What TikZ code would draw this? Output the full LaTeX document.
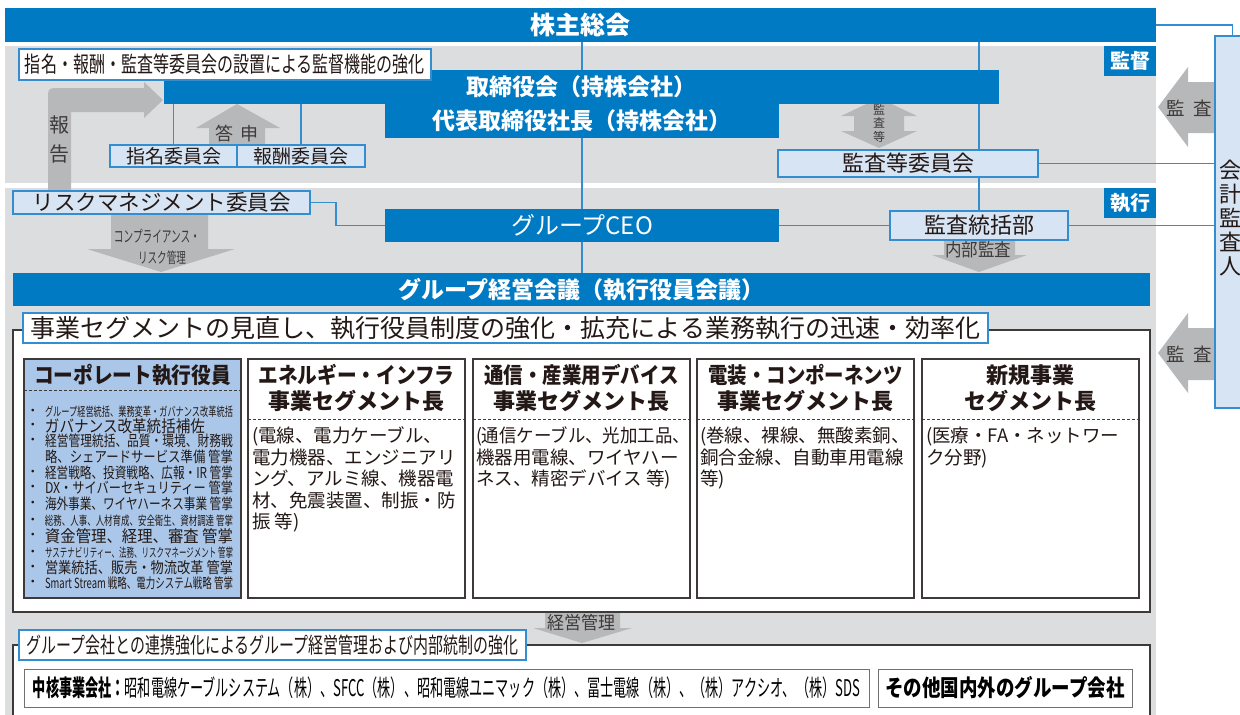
\documentclass[tikz,border=0pt]{standalone}
\usepackage{fontspec}
\setmainfont{Noto Sans CJK JP}
\usepackage{graphicx}
\usetikzlibrary{calc}
\definecolor{cblue}{RGB}{0,122,195}
\definecolor{lineblue}{RGB}{52,141,206}
\definecolor{lblue}{RGB}{214,228,243}
\definecolor{corpfill}{RGB}{170,199,233}
\definecolor{bandgray}{RGB}{220,221,222}
\definecolor{agray}{RGB}{183,184,186}
\definecolor{dark}{RGB}{62,58,57}
\definecolor{txtc}{RGB}{35,24,21}
\definecolor{mgray}{RGB}{114,113,113}
\pgfdeclarelayer{back}
\pgfdeclarelayer{mid}
\pgfsetlayers{back,mid,main}
\newcommand{\fitw}[2]{\resizebox{#1}{\height}{#2}}
\newcommand{\fs}[1]{\fontsize{#1pt}{#1pt}\selectfont}
\newcommand{\citem}[5]{\node[tl,anchor=west] (ci#1) at (45,#2) {\fitw{#3pt}{\fs{#4}#5}};}
\newcommand{\cbul}[2]{\node[tl] (cb#1) at (33,#2) {\fs{13}・};}
\begin{document}
\begin{tikzpicture}[x=1pt,y=-1pt,
 bbar/.style={fill=cblue,draw=none,inner sep=0,outer sep=0,text=white},
 lbbox/.style={fill=lblue,draw=lineblue,line width=1.2pt,inner sep=0,outer sep=0,text=txtc},
 wtbox/.style={fill=white,draw=lineblue,line width=1.2pt,inner sep=0,outer sep=0,text=txtc},
 sgbox/.style={fill=white,draw=dark,line width=1.2pt,inner sep=0,outer sep=0},
 conn/.style={draw=lineblue,line width=1.3pt},
 garr/.style={fill=agray,draw=none},
 dsh/.style={draw=dark,line width=0.8pt,dash pattern=on 3pt off 2pt},
 tl/.style={inner sep=0,outer sep=0,text=txtc},
 body/.style={tl,anchor=north west,align=left,font=\fontsize{18.5pt}{21.5pt}\selectfont}]
\useasboundingbox (0,0) rectangle (1240,715);

% ---------- top ----------
\node[bbar,minimum width=1151pt,minimum height=34pt,font=\bfseries\fs{25}] (kabu) at (580.5,25) {株主総会};
\node[bbar,minimum width=835pt,minimum height=34pt,font=\bfseries\fs{23}] (board) at (581.5,87) {取締役会（持株会社）};
\node[bbar,minimum width=394pt,minimum height=34pt,font=\bfseries\fs{23}] (pres) at (582,121) {代表取締役社長（持株会社）};
\node[wtbox,minimum width=412pt,minimum height=31pt] (kyoka) at (225,64.5) {\fitw{400pt}{\fs{22}指名・報酬・監査等委員会の設置による監督機能の強化}};
\node[lbbox,minimum width=127pt,minimum height=22pt,font=\fs{19}] (shimei) at (173.5,156) {指名委員会};
\node[lbbox,minimum width=128pt,minimum height=22pt,font=\fs{19}] (hoshu) at (301,156) {報酬委員会};
\node[lbbox,minimum width=260pt,minimum height=27pt,font=\fs{22}] (kansa) at (908,163.5) {監査等委員会};
\node[bbar,minimum width=52pt,minimum height=30pt,font=\bfseries\fs{20}] (kantoku) at (1130,61) {監督};

% ---------- execution ----------
\node[lbbox,minimum width=297pt,minimum height=23pt,font=\fs{21.5}] (risk) at (161.5,202.5) {リスクマネジメント委員会};
\node[bbar,minimum width=394pt,minimum height=33pt,font=\fs{24}] (ceo) at (582,225.5) {グループCEO};
\node[lbbox,minimum width=178pt,minimum height=29pt,font=\fs{22}] (tokatsu) at (979,225.5) {監査統括部};
\node[bbar,minimum width=52pt,minimum height=30pt,font=\bfseries\fs{20}] (shikko) at (1130,203) {執行};
\node[bbar,minimum width=1137pt,minimum height=33pt,font=\bfseries\fs{23}] (keiei) at (581.5,289.5) {グループ経営会議（執行役員会議）};

% ---------- auditor ----------
\node[lbbox,minimum width=35pt,minimum height=372pt] (kaikei) at (1232.5,222) {};
\node[tl,align=center,font=\fontsize{22pt}{24pt}\selectfont] (kaikeiT) at (1230,218) {会\\計\\監\\査\\人};

% ---------- segments ----------
\node[sgbox,minimum width=1137pt,minimum height=282pt] (segframe) at (581.5,471) {};
\node[wtbox,minimum width=965pt,minimum height=30pt,font=\fs{25}] (segtitle) at (505.5,328) {事業セグメントの見直し、執行役員制度の強化・拡充による業務執行の迅速・効率化};
\node[sgbox,fill=corpfill,minimum width=217pt,minimum height=239pt] (corp) at (132.5,478.5) {};
\node[sgbox,minimum width=217pt,minimum height=239pt] (seg1) at (356.5,478.5) {};
\node[sgbox,minimum width=217pt,minimum height=239pt] (seg2) at (581.5,478.5) {};
\node[sgbox,minimum width=217pt,minimum height=239pt] (seg3) at (805.5,478.5) {};
\node[sgbox,minimum width=217pt,minimum height=239pt] (seg4) at (1030.5,478.5) {};
\draw[dsh] ($(corp.north west)+(0,31)$) -- ($(corp.north east)+(0,31)$);
\draw[dsh] ($(seg1.north west)+(0,60)$) -- ($(seg1.north east)+(0,60)$);
\draw[dsh] ($(seg2.north west)+(0,60)$) -- ($(seg2.north east)+(0,60)$);
\draw[dsh] ($(seg3.north west)+(0,60)$) -- ($(seg3.north east)+(0,60)$);
\draw[dsh] ($(seg4.north west)+(0,60)$) -- ($(seg4.north east)+(0,60)$);

\node[tl,font=\bfseries] (corpT) at (132.5,375) {\fitw{197pt}{\fs{22}コーポレート執行役員}};
\node[tl,font=\bfseries] (s1a) at (356.5,375) {\fitw{196pt}{\fs{22}エネルギー・インフラ}};
\node[tl,font=\bfseries\fs{22}] (s1b) at (356.5,401) {事業セグメント長};
\node[tl,font=\bfseries] (s2a) at (581.5,375) {\fitw{194pt}{\fs{22}通信・産業用デバイス}};
\node[tl,font=\bfseries\fs{22}] (s2b) at (581.5,401) {事業セグメント長};
\node[tl,font=\bfseries] (s3a) at (805.5,375) {\fitw{194pt}{\fs{22}電装・コンポーネンツ}};
\node[tl,font=\bfseries\fs{22}] (s3b) at (805.5,401) {事業セグメント長};
\node[tl,font=\bfseries\fs{22}] (s4a) at (1030.5,375) {新規事業};
\node[tl,font=\bfseries\fs{22}] (s4b) at (1030.5,401) {セグメント長};

\node[body] (b1) at (252,427) {(電線、電力ケーブル、\\電力機器、エンジニアリ\\ング、アルミ線、機器電\\材、免震装置、制振・防\\振 等)};
\node[body] (b2) at (476,427) {\fitw{214pt}{(通信ケーブル、光加工品、}\\機器用電線、ワイヤハー\\ネス、精密デバイス 等)};
\node[body] (b3) at (700,427) {(巻線、裸線、無酸素銅、\\銅合金線、自動車用電線\\等)};
\node[body] (b4) at (926,427) {(医療・FA・ネットワー\\ク分野)};

\cbul{1}{412}\citem{1}{412}{188}{12.5}{グループ経営統括、業務変革・ガバナンス改革統括}
\cbul{2}{426}\citem{2}{426}{160}{16.5}{ガバナンス改革統括補佐}
\cbul{3}{441}\citem{3}{441}{188}{15}{経営管理統括、品質・環境、財務戦}
\citem{4}{457}{188}{15}{略、シェアードサービス準備 管掌}
\cbul{5}{473}\citem{5}{473}{188}{15}{経営戦略、投資戦略、広報・IR 管掌}
\cbul{6}{488}\citem{6}{488}{188}{15}{DX・サイバーセキュリティー 管掌}
\cbul{7}{504}\citem{7}{504}{188}{15}{海外事業、ワイヤハーネス事業 管掌}
\cbul{8}{521}\citem{8}{521}{188}{12.5}{総務、人事、人材育成、安全衛生、資材調達 管掌}
\cbul{9}{536}\citem{9}{536}{188}{16.5}{資金管理、経理、審査 管掌}
\cbul{10}{553}\citem{10}{553}{188}{12.5}{サステナビリティー、法務、リスクマネージメント 管掌}
\cbul{11}{568}\citem{11}{568}{188}{15.5}{営業統括、販売・物流改革 管掌}
\cbul{12}{583}\citem{12}{583}{188}{14}{Smart Stream 戦略、電力システム戦略 管掌}

% ---------- group companies ----------
\node[sgbox,minimum width=1137pt,minimum height=90pt] (grframe) at (581.5,690) {};
\node[wtbox,minimum width=507pt,minimum height=30pt] (grtitle) at (272.5,645) {\fitw{491pt}{\fs{22}グループ会社との連携強化によるグループ経営管理および内部統制の強化}};
\node[sgbox,draw=mgray,line width=1pt,minimum width=845pt,minimum height=38pt] (core) at (446.5,688) {\fitw{827pt}{\fs{23}\bfseries 中核事業会社：\mdseries 昭和電線ケーブルシステム（株）、SFCC（株）、昭和電線ユニマック（株）、冨士電線（株）、（株）アクシオ、（株）SDS}};
\node[sgbox,draw=mgray,line width=1pt,minimum width=254pt,minimum height=38pt] (other) at (1005,688) {\fitw{239pt}{\fs{23}\bfseries その他国内外のグループ会社}};

% ---------- arrow labels ----------
\node[tl,font=\fs{20},text=dark] (hokoku1) at (59,125) {報};
\node[tl,font=\fs{20},text=dark] (hokoku2) at (59,154) {告};
\node[tl,font=\fs{18},text=dark] (toshin) at (237,133.5) {答\hspace{8pt}申};
\node[tl,text=dark,align=center,font=\fontsize{12pt}{13.5pt}\selectfont] (kansato) at (879,123) {監\\査\\等};
\node[tl,font=\fs{18.5},text=dark] (kansa1) at (1189,108) {監\hspace{8pt}査};
\node[tl,font=\fs{18.5},text=dark] (kansa2) at (1189,354) {監\hspace{8pt}査};
\node[tl,text=dark] (comp1) at (157,236) {\fitw{86pt}{\fs{16}コンプライアンス・}};
\node[tl,text=dark] (comp2) at (162,258) {\fitw{48pt}{\fs{15}リスク管理}};
\node[tl,text=dark] (naibu) at (978,250) {\fitw{66pt}{\fs{18}内部監査}};
\node[tl,text=dark] (keieikanri) at (581,623) {\fitw{68pt}{\fs{18}経営管理}};

% ---------- background ----------
\begin{pgfonlayer}{back}
\fill[white] (0,0) rectangle (1240,715);
\fill[bandgray] (5,46) rectangle (1156,183);
\fill[bandgray] (5,188) rectangle (1156,715);
\end{pgfonlayer}

% ---------- connectors and arrows ----------
\begin{pgfonlayer}{mid}
\draw[conn] (kabu.south -| ceo) -- (keiei.north -| ceo);
\draw[conn] (kabu.south -| tokatsu) -- (kansa.north -| tokatsu);
\draw[conn] (kansa.south -| tokatsu) -- (tokatsu.north);
\draw[conn] (kabu.east) -| (kaikei.north);
\draw[conn] (kansa.east) -- (kansa.east -| kaikei.west);
\draw[conn] (tokatsu.east) -- (tokatsu.east -| kaikei.west);
\draw[conn] (ceo.east) -- (tokatsu.west);
\draw[conn] (risk.east) -- ++(26,0) |- (ceo.west);
\draw[conn] (shimei.north) -- (shimei.north |- board.south);
\draw[conn] (hoshu.north) -- (hoshu.north |- board.south);
% report arrow
\fill[garr] (48,191) -- (48,100) .. controls (48,88) .. (60,88) -- (144,88) -- (144,82) -- (163,100) -- (144,118) -- (144,112) -- (71,112) -- (71,191) -- cycle;
% toshin arrow
\fill[garr] (237,104) -- (280,128) -- (265,128) -- (265,146) -- (209,146) -- (209,128) -- (196,128) -- cycle;
% kansa-to double arrow
\fill[garr] (879,98) -- (917,116) -- (904,116) -- (904,131) -- (917,131) -- (879,148) -- (841,131) -- (854,131) -- (854,116) -- (841,116) -- cycle;
% compliance arrow
\fill[garr] (111,214) -- (208,214) -- (208,249) -- (235,249) -- (161,272) -- (87,249) -- (111,249) -- cycle;
% internal audit arrow
\fill[garr] (944,240) -- (1015,240) -- (1015,255) -- (1027,255) -- (979,272) -- (932,255) -- (944,255) -- cycle;
% management arrow
\fill[garr] (545,612) -- (620,612) -- (620,628) -- (632,628) -- (582,643) -- (533,628) -- (545,628) -- cycle;
% audit arrows from auditor
\fill[garr] (1215,82) -- (1188,82) -- (1188,67) -- (1158,107) -- (1188,147) -- (1188,133) -- (1215,133) -- cycle;
\fill[garr] (1215,328) -- (1188,328) -- (1188,313) -- (1158,353) -- (1188,393) -- (1188,380) -- (1215,380) -- cycle;
\end{pgfonlayer}
\end{tikzpicture}
\end{document}
